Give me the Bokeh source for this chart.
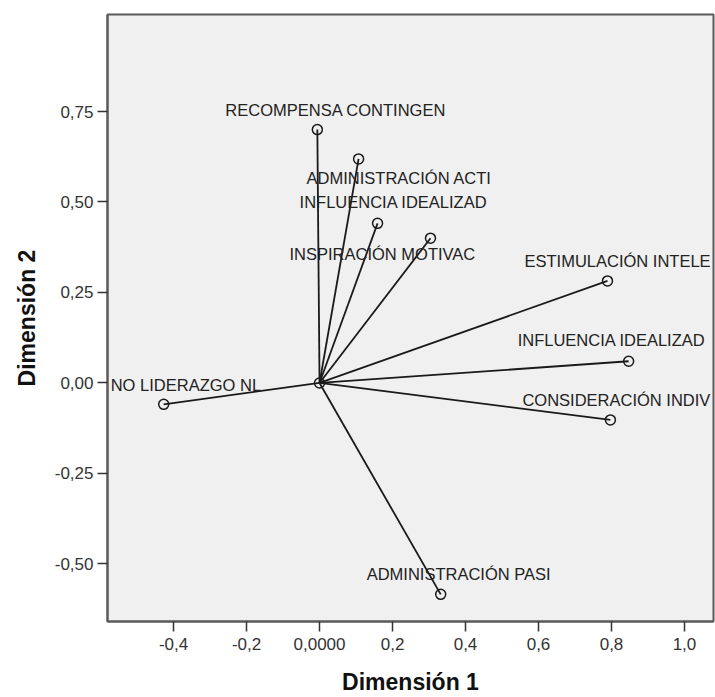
from bokeh.plotting import figure
from bokeh.models import ColumnDataSource, FixedTicker, Range1d, Title
from bokeh.core.properties import value
from bokeh.embed import file_html
from bokeh.resources import INLINE

# ---- data ----
names = ["RECOMPENSA CONTINGEN", "ADMINISTRACIÓN ACTI", "INFLUENCIA IDEALIZAD",
         "INSPIRACIÓN MOTIVAC", "ESTIMULACIÓN INTELE", "INFLUENCIA IDEALIZAD",
         "CONSIDERACIÓN INDIV", "ADMINISTRACIÓN PASI", "NO LIDERAZGO NL"]
dim1 = [-0.006, 0.107, 0.159, 0.304, 0.789, 0.847, 0.797, 0.332, -0.427]
dim2 = [0.700, 0.619, 0.441, 0.400, 0.282, 0.060, -0.102, -0.584, -0.059]

x_ticks = [-0.4, -0.2, 0.0, 0.2, 0.4, 0.6, 0.8, 1.0]
x_tick_labels = ["-0,4", "-0,2", "0,0000", "0,2", "0,4", "0,6", "0,8", "1,0"]
y_ticks = [-0.5, -0.25, 0.0, 0.25, 0.5, 0.75]
y_tick_labels = ["-0,50", "-0,25", "0,00", "0,25", "0,50", "0,75"]

# label placement (screen pixel offsets of each label's left edge / middle)
label_dx = [-92, -52, -78, -141, -83, -111, -88, -74, -53]
label_dy = [-20, 19, -21, 16, -20, -21, -20, -20, -19]

src = ColumnDataSource(dict(name=names, x=dim1, y=dim2,
                            x0=[0.0] * len(dim1), y0=[0.0] * len(dim2),
                            dx=label_dx, dy=label_dy))

p = figure(width=715, height=697, output_backend="svg", toolbar_location=None,
           x_range=Range1d(-0.581, 1.0795), y_range=Range1d(-0.659, 1.018),
           min_border_left=107, min_border_right=2, min_border_top=14,
           min_border_bottom=76)

p.background_fill_color = "#f0f0f0"
p.border_fill_color = "white"
p.outline_line_color = "#5a5a5a"
p.outline_line_width = 2
p.xgrid.visible = False
p.ygrid.visible = False

for ax in (p.xaxis[0], p.yaxis[0]):
    ax.axis_line_color = "#5a5a5a"
    ax.axis_line_width = 2
    ax.major_tick_line_color = "#333333"
    ax.major_tick_line_width = 1.5
    ax.major_tick_out = 10
    ax.major_tick_in = 0
    ax.minor_tick_line_color = None
    ax.major_label_text_font = "Liberation Sans"
    ax.major_label_text_font_size = "17px"
    ax.major_label_text_color = "#333333"

p.xaxis.ticker = FixedTicker(ticks=x_ticks)
p.xaxis.major_label_overrides = {t: l for t, l in zip(x_ticks, x_tick_labels)}
p.xaxis.major_label_standoff = 6
p.xaxis.axis_label = "Dimensión 1"
p.xaxis.axis_label_text_font = "Liberation Sans"
p.xaxis.axis_label_text_font_style = "bold"
p.xaxis.axis_label_text_font_size = "23px"
p.xaxis.axis_label_text_color = "#111111"
p.xaxis.axis_label_standoff = 16

p.yaxis.ticker = FixedTicker(ticks=y_ticks)
p.yaxis.major_label_overrides = {t: l for t, l in zip(y_ticks, y_tick_labels)}
p.yaxis.major_label_standoff = 4

ytitle = Title(text="Dimensión 2", align="center", standoff=23,
               text_font="Liberation Sans", text_font_style="bold",
               text_font_size="23px", text_color="#111111")
p.add_layout(ytitle, "left")

p.segment(x0="x0", y0="y0", x1="x", y1="y", source=src,
          line_color="#1a1a1a", line_width=1.8)
p.scatter(x="x", y="y", source=src, marker="circle", size=10,
          fill_color=None, line_color="#1a1a1a", line_width=1.5)
p.scatter(x=[0.0], y=[0.0], marker="circle", size=10,
          fill_color=None, line_color="#1a1a1a", line_width=1.5)

p.text(x="x", y="y", text="name", source=src, x_offset="dx", y_offset="dy",
       text_align="left", text_baseline="middle",
       text_font=value("Liberation Sans"), text_font_size="16.5px",
       text_color="#222222")

open("out.html", "w").write(file_html(p, INLINE))
